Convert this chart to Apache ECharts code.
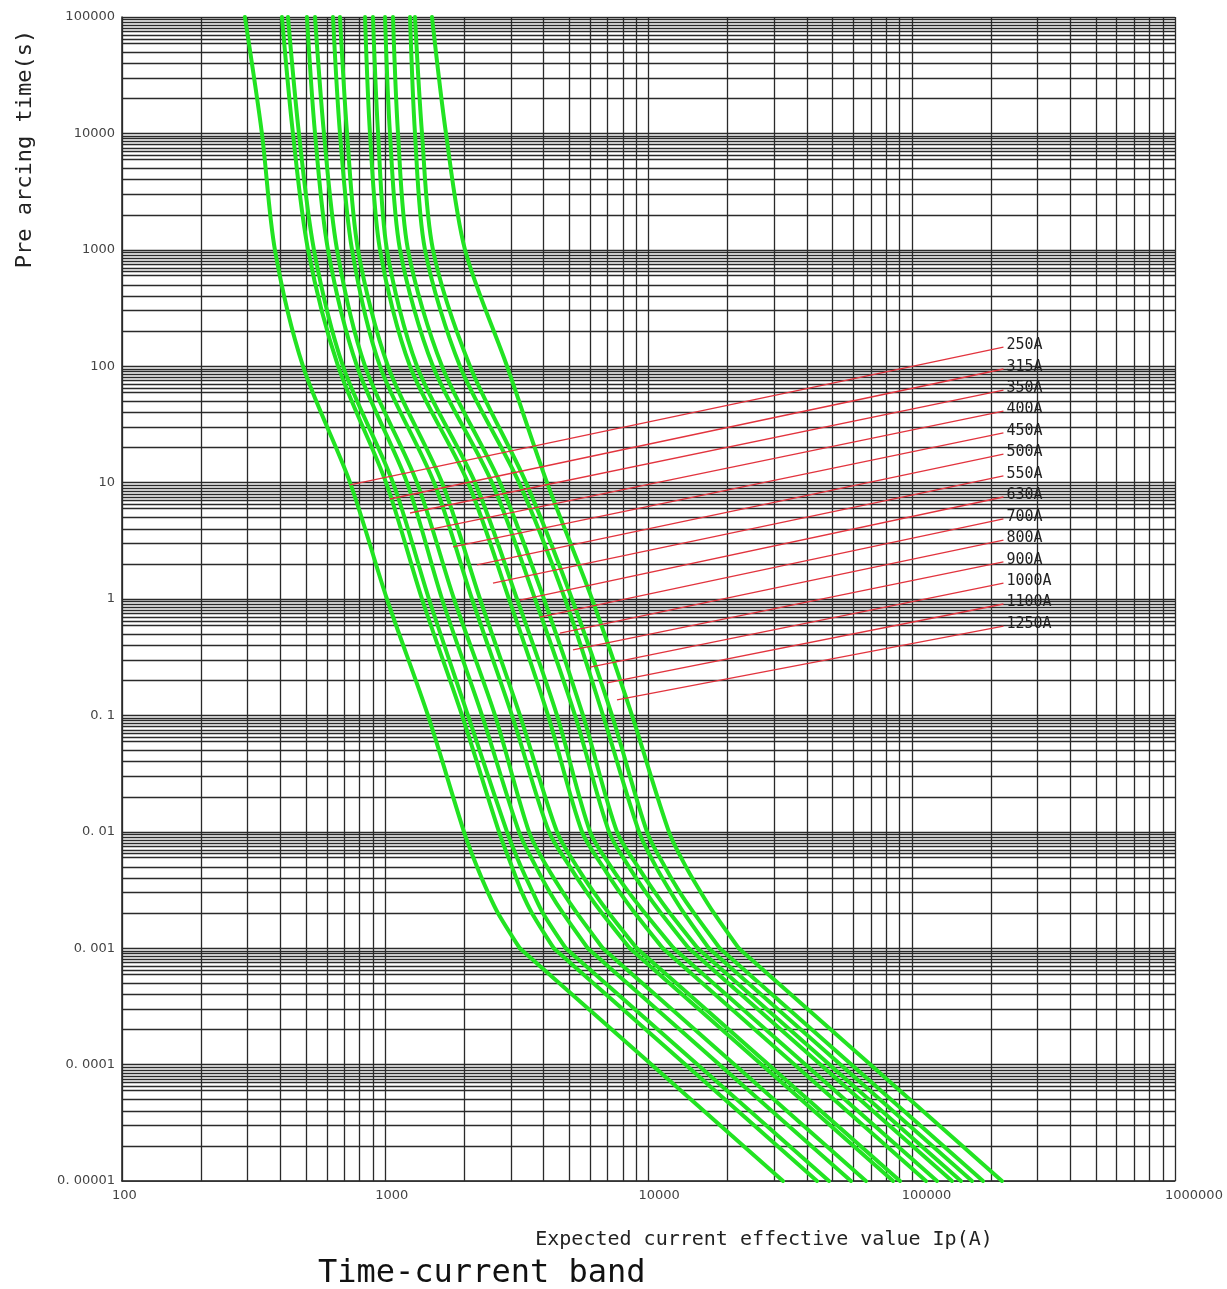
<!DOCTYPE html>
<html><head><meta charset="utf-8">
<script src="https://cdn.jsdelivr.net/npm/echarts@6/dist/echarts.min.js"></script>
<style>html,body{margin:0;padding:0;background:#fff}#c{width:1227px;height:1289px}</style>
</head><body><div id="c"></div>
<script>
// ---- data ----
const xTickLabels = ['100', '1000', '10000', '100000', '1000000'];
const yTickLabels = ['0. 00001', '0. 0001', '0. 001', '0. 01', '0. 1', '1', '10', '100', '1000', '10000', '100000'];
const ratings = ['250A', '315A', '350A', '400A', '450A', '500A', '550A', '630A', '700A', '800A', '900A', '1000A', '1100A', '1250A'];
// pre-arcing time levels (s) at which each curve's current (A) was read
const times = [100000, 10000, 1000, 100, 10, 1, 0.1, 0.01, 0.005, 0.003, 0.002, 0.001, 0.0001, 0.00001];
const I_250A  = [293, 340, 381, 487, 735, 1015, 1453, 1991, 2231, 2457, 2681, 3243, 10260, 32430];
const I_315A  = [405, 446, 509, 662, 1007, 1379, 1957, 2705, 3030, 3307, 3609, 4366, 13810, 43660];
const I_350A  = [427, 470, 536, 691, 1070, 1466, 2062, 2901, 3279, 3641, 3974, 4849, 15340, 48490];
const I_400A  = [504, 541, 606, 781, 1210, 1643, 2331, 3222, 3738, 4225, 4734, 5876, 18580, 58760];
const I_450A  = [541, 585, 656, 838, 1320, 1825, 2612, 3516, 4116, 4734, 5349, 6702, 21200, 67020];
const I_500A  = [633, 673, 748, 955, 1532, 2136, 3030, 4188, 5033, 5839, 6658, 8494, 26860, 84940];
const I_550A  = [673, 716, 788, 1024, 1643, 2291, 3250, 4492, 5349, 6209, 7079, 9024, 28540, 90240];
const I_630A  = [838, 875, 955, 1242, 2062, 2952, 4152, 5590, 6716, 7793, 8886, 11330, 35830, 113300];
const I_700A  = [898, 939, 1015, 1320, 2193, 3166, 4492, 6000, 7204, 8431, 9699, 12470, 39440, 124700];
const I_800A  = [998, 1042, 1138, 1518, 2544, 3706, 5258, 7079, 8431, 9784, 11160, 14220, 44970, 142200];
const I_900A  = [1070, 1118, 1220, 1643, 2728, 4009, 5639, 7592, 9123, 10590, 12070, 15380, 48640, 153800];
const I_1000A = [1242, 1297, 1416, 1923, 3222, 4817, 6716, 9204, 10680, 12180, 13640, 16940, 53570, 169400];
const I_1100A = [1297, 1379, 1518, 2099, 3425, 5122, 7267, 9870, 11550, 13170, 14890, 18650, 58980, 186500];
const I_1250A = [1505, 1701, 2009, 2901, 4116, 6101, 8656, 11960, 13880, 15830, 17730, 22010, 69610, 220100];
const curves = [I_250A, I_315A, I_350A, I_400A, I_450A, I_500A, I_550A, I_630A, I_700A, I_800A, I_900A, I_1000A, I_1100A, I_1250A];
// index in `times` where the straight I²t part begins (0.001 s)
const straightFrom = 11;
// red leader lines: point on curve -> label end
const leaderStartI = [735, 1042, 1242, 1453, 1809, 2231, 2566, 3250, 3871, 4612, 5166, 6000, 6956, 7592];
const leaderStartT = [9.54, 7.23, 5.48, 3.92, 2.80, 1.96, 1.372, 0.980, 0.700, 0.510, 0.365, 0.260, 0.190, 0.136];
const leaderEndI = 223000;
const leaderEndT = [146, 94.6, 62.4, 41.2, 26.7, 17.6, 11.4, 7.52, 4.87, 3.21, 2.08, 1.372, 0.906, 0.586];
// grid line factors within each decade
const xDecades = [100, 1000, 10000, 100000, 1000000];
const yDecades = [0.00001, 0.0001, 0.001, 0.01, 0.1, 1, 10, 100, 1000, 10000, 100000];
const xGridFactors = [1, 2, 3, 4, 5, 6, 7, 8, 9];
const yGridFactors = [1, 2, 3, 4, 5, 6, 6.5, 7, 7.5, 8, 8.5, 9, 9.5];

function gridValues(decades, factors) {
  const out = [];
  decades.forEach((d, i) => {
    if (i === decades.length - 1) { out.push(d); return; }
    factors.forEach(f => out.push(+(d * f).toPrecision(8)));
  });
  return out;
}
const X_MIN = xDecades[0], X_MAX = xDecades[xDecades.length - 1];
const Y_MIN = yDecades[0], Y_MAX = yDecades[yDecades.length - 1];
const mono = '"DejaVu Sans Mono", "Liberation Mono", monospace';
const GREEN = '#22e322';
const chart = echarts.init(document.getElementById('c'), null, { renderer: 'canvas' });

const gridData = gridValues(yDecades, yGridFactors).map(v => ({ coords: [[X_MIN, v], [X_MAX, v]] }))
  .concat(gridValues(xDecades, xGridFactors).map(v => ({ coords: [[v, Y_MIN], [v, Y_MAX]] })));

const series = [];
series.push({
  type: 'lines', coordinateSystem: 'cartesian2d', z: 1, silent: true,
  lineStyle: { color: '#2a2a2a', width: 1.3, opacity: 1, curveness: 0 },
  data: gridData
});
curves.forEach((arr, i) => {
  const pts = times.map((t, k) => [arr[k], t]);
  series.push({
    type: 'line', name: ratings[i], z: 3, showSymbol: false, symbol: 'none',
    smooth: 0.3, silent: true,
    lineStyle: { color: GREEN, width: 4, cap: 'round' },
    data: pts.slice(0, straightFrom + 1)
  });
  series.push({
    type: 'line', name: ratings[i] + ' I2t', z: 3, showSymbol: false, symbol: 'none',
    smooth: false, silent: true,
    lineStyle: { color: GREEN, width: 4, cap: 'round' },
    data: pts.slice(straightFrom)
  });
});
ratings.forEach((r, i) => {
  series.push({
    type: 'line', name: r + ' label', z: 4, showSymbol: false, symbol: 'none', silent: true,
    lineStyle: { color: '#e2343e', width: 1.3 },
    data: [[leaderStartI[i], leaderStartT[i]], [leaderEndI, leaderEndT[i]]],
    endLabel: { show: true, formatter: r, color: '#222', fontFamily: mono, fontSize: 15, distance: 3, offset: [0, -2] }
  });
});

chart.setOption({
  animation: false,
  backgroundColor: '#fff',
  grid: { left: 122, top: 17, width: 1053, height: 1164, containLabel: false },
  xAxis: {
    type: 'log', logBase: 10, min: X_MIN, max: X_MAX, interval: 1,
    axisLine: { show: true, lineStyle: { color: '#222', width: 1.5 } },
    axisTick: { show: false }, splitLine: { show: false }, minorSplitLine: { show: false },
    axisLabel: {
      margin: 8, color: '#444', fontSize: 13, fontFamily: '"DejaVu Sans", sans-serif',
      align: 'left', padding: [0, 0, 0, -10],
      formatter: v => xTickLabels[Math.round(Math.log10(v)) - 2]
    }
  },
  yAxis: {
    type: 'log', logBase: 10, min: Y_MIN, max: Y_MAX, interval: 1,
    axisLine: { show: true, lineStyle: { color: '#222', width: 1.5 } },
    axisTick: { show: false }, splitLine: { show: false },
    axisLabel: {
      margin: 7, color: '#444', fontSize: 13, fontFamily: '"DejaVu Sans", sans-serif',
      formatter: v => yTickLabels[Math.round(Math.log10(v)) + 5]
    }
  },
  graphic: [
    { type: 'text', x: 25, y: 149, rotation: Math.PI / 2,
      style: { text: 'Pre arcing time(s)', font: '22px ' + mono, fill: '#222', align: 'center', verticalAlign: 'middle' } },
    { type: 'text', x: 764, y: 1240,
      style: { text: 'Expected current effective value Ip(A)', font: '20px ' + mono, fill: '#222', align: 'center', verticalAlign: 'middle' } },
    { type: 'text', x: 318, y: 1274,
      style: { text: 'Time-current band', font: '32px ' + mono, fill: '#111', align: 'left', verticalAlign: 'middle' } }
  ],
  series: series
});
</script></body></html>
